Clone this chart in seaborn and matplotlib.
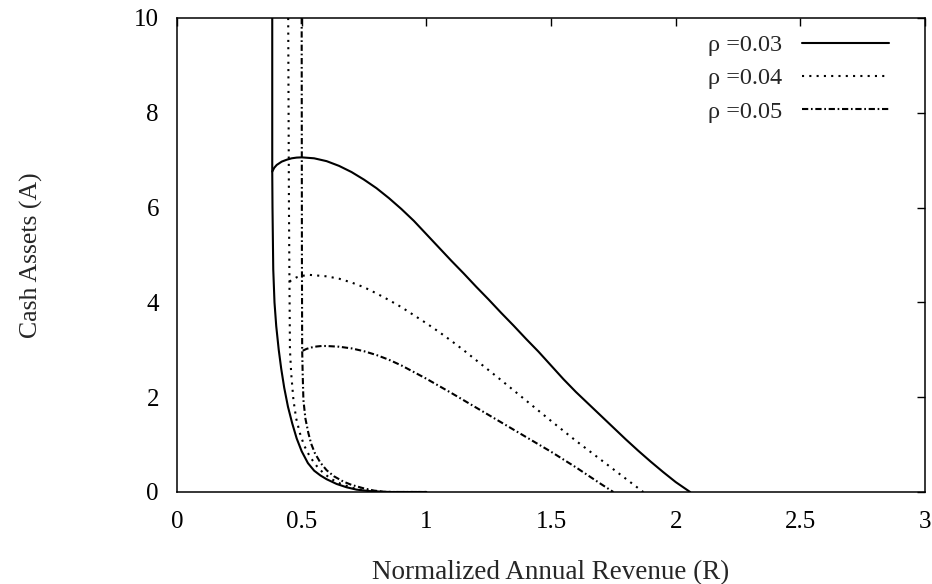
import matplotlib
matplotlib.use("Agg")
import matplotlib.pyplot as plt
import seaborn as sns

sns.set_style("white")
plt.rcParams['font.family'] = ['Liberation Serif', 'DejaVu Serif']

# ---------------- data ----------------
rho_labels = ["ρ =0.03", "ρ =0.04", "ρ =0.05"]

# lower branches (vertical boundary down to zero)
low_03_R = [0.382, 0.382, 0.383, 0.386, 0.391, 0.398, 0.408, 0.418, 0.430, 0.445, 0.462, 0.480,
            0.500, 0.525, 0.550, 0.575, 0.600, 0.640, 0.680, 0.720, 0.770, 0.850, 1.000]
low_03_A = [10.0, 6.76, 6.00, 4.70, 4.00, 3.50, 3.00, 2.60, 2.20, 1.80, 1.45, 1.13,
            0.86, 0.61, 0.45, 0.35, 0.27, 0.17, 0.10, 0.05, 0.02, 0.0, 0.0]

low_04_R = [0.446, 0.449, 0.451, 0.453, 0.458, 0.467, 0.478, 0.493, 0.510, 0.533, 0.560, 0.587,
            0.620, 0.654, 0.700, 0.747, 0.800, 0.870, 1.000]
low_04_A = [10.0, 6.00, 4.44, 3.00, 2.50, 1.94, 1.55, 1.24, 0.98, 0.745, 0.55, 0.40,
            0.27, 0.18, 0.09, 0.04, 0.01, 0.0, 0.0]

low_05_R = [0.500, 0.501, 0.502, 0.504, 0.507, 0.515, 0.527, 0.538, 0.553, 0.575, 0.600, 0.630,
            0.667, 0.700, 0.747, 0.790, 0.840, 1.000]
low_05_A = [10.0, 5.00, 3.00, 2.50, 1.94, 1.55, 1.24, 1.02, 0.82, 0.62, 0.46, 0.33,
            0.22, 0.15, 0.08, 0.03, 0.0, 0.0]

# upper branches (from the boundary out to the zero crossing)
up_03_R = [0.382, 0.390, 0.400, 0.420, 0.440, 0.460, 0.480, 0.500, 0.550, 0.600, 0.650, 0.700,
           0.750, 0.800, 0.850, 0.900, 0.950, 1.000, 1.050, 1.100, 1.150, 1.200, 1.250, 1.300,
           1.350, 1.400, 1.450, 1.500, 1.550, 1.600, 1.650, 1.700, 1.750, 1.800, 1.850, 1.900,
           1.950, 2.000, 2.058]
up_03_A = [6.76, 6.84, 6.90, 6.97, 7.01, 7.04, 7.055, 7.06, 7.04, 6.98, 6.88, 6.75,
           6.59, 6.41, 6.20, 5.97, 5.72, 5.44, 5.16, 4.88, 4.61, 4.33, 4.06, 3.78,
           3.51, 3.23, 2.96, 2.67, 2.38, 2.11, 1.86, 1.61, 1.36, 1.11, 0.87, 0.64,
           0.42, 0.21, 0.0]

up_04_R = [0.451, 0.460, 0.470, 0.480, 0.500, 0.533, 0.600, 0.650, 0.700, 0.750, 0.800, 0.850,
           0.900, 0.950, 1.000, 1.050, 1.100, 1.150, 1.200, 1.250, 1.300, 1.400, 1.500, 1.600,
           1.700, 1.800, 1.870]
up_04_A = [4.44, 4.47, 4.50, 4.53, 4.56, 4.58, 4.55, 4.50, 4.42, 4.32, 4.19, 4.05,
           3.90, 3.73, 3.56, 3.38, 3.19, 2.99, 2.78, 2.57, 2.36, 1.93, 1.50, 1.08,
           0.68, 0.28, 0.0]

up_05_R = [0.504, 0.520, 0.540, 0.560, 0.580, 0.600, 0.650, 0.700, 0.750, 0.800, 0.850, 0.900,
           0.950, 1.000, 1.100, 1.200, 1.300, 1.400, 1.500, 1.600, 1.700, 1.750]
up_05_A = [2.98, 3.02, 3.05, 3.07, 3.08, 3.08, 3.065, 3.03, 2.97, 2.89, 2.79, 2.67,
           2.53, 2.39, 2.09, 1.78, 1.47, 1.16, 0.85, 0.52, 0.17, 0.0]

x_ticks = [0, 0.5, 1, 1.5, 2, 2.5, 3]
x_tick_labels = ["0", "0.5", "1", "1.5", "2", "2.5", "3"]
y_ticks = [0, 2, 4, 6, 8, 10]
y_tick_labels = ["0", "2", "4", "6", "8", "10"]

# ---------------- figure ----------------
fig = plt.figure(figsize=(9.32, 5.84), dpi=100)
ax = fig.add_axes([177/932, (584-492)/584, 748/932, 474/584])

styles = ["-", (0, (1, 2.5)), (0, (3, 1.3, 0.8, 1.3))]
lows = [(low_03_R, low_03_A), (low_04_R, low_04_A), (low_05_R, low_05_A)]
ups = [(up_03_R, up_03_A), (up_04_R, up_04_A), (up_05_R, up_05_A)]

for lab, ls, (lr, la), (ur, ua) in zip(rho_labels, styles, lows, ups):
    sns.lineplot(x=lr, y=la, sort=False, estimator=None, ax=ax, color="black",
                 linewidth=1.5, linestyle=ls, label=lab)
    sns.lineplot(x=ur, y=ua, sort=False, estimator=None, ax=ax, color="black",
                 linewidth=1.5, linestyle=ls, label="_nolegend_")

ax.set_xlim(0, 3)
ax.set_ylim(0, 10)
ax.set_xticks(x_ticks)
ax.set_xticklabels(x_tick_labels)
ax.set_yticks(y_ticks)
ax.set_yticklabels(y_tick_labels)
ax.tick_params(direction="in", length=6, width=1, top=True, right=True,
               labelsize=18, colors="black")
ax.tick_params(axis="x", pad=14)
ax.tick_params(axis="y", pad=13)
for s in ax.spines.values():
    s.set_visible(True)
    s.set_color("black")
    s.set_linewidth(1.1)

ax.set_xlabel("Normalized Annual Revenue (R)", fontsize=19.5)
ax.set_ylabel("Cash Assets (A)", fontsize=18.5)
ax.xaxis.set_label_coords(0.5, -0.144)
ax.yaxis.set_label_coords(-0.179, 0.5)

leg = ax.legend(loc="upper right", bbox_to_anchor=((889-177)/748, (492-34)/474),
                frameon=False, markerfirst=False, fontsize=17.5, handlelength=3.6,
                handletextpad=0.8, labelspacing=0.47, borderaxespad=0, borderpad=0)
for line in leg.get_lines():
    line.set_linewidth(1.5)

fig.savefig("out.png", dpi=100, facecolor="white")
